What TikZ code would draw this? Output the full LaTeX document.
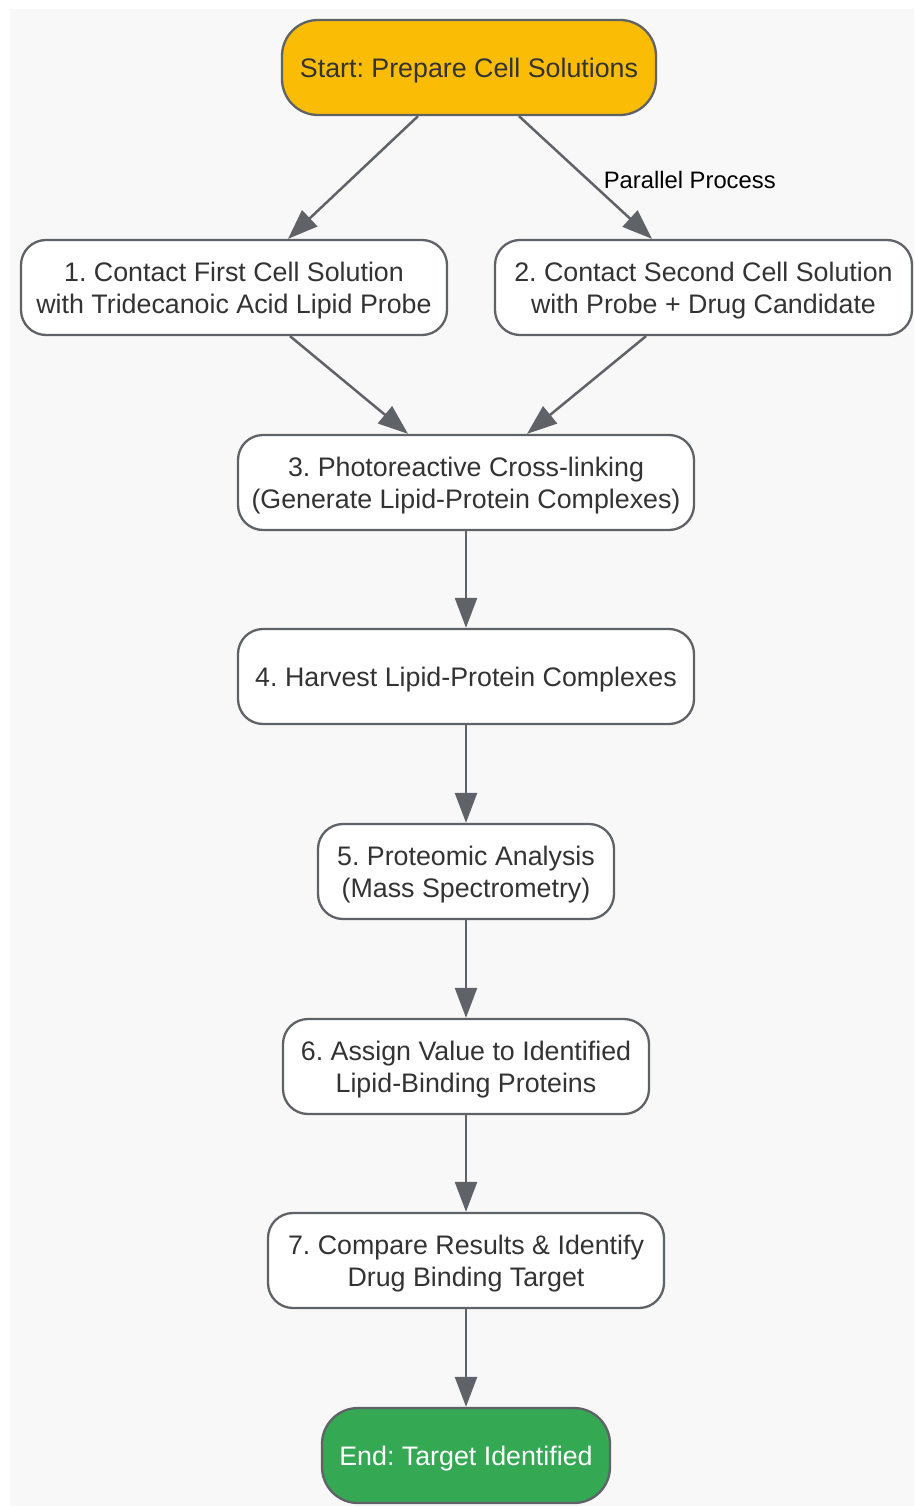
\documentclass[tikz,border=0pt]{standalone}
\usepackage{fontspec}
\setmainfont{Liberation Sans}
\usetikzlibrary{arrows.meta}
\definecolor{bgc}{HTML}{F8F8F8}
\definecolor{edgec}{HTML}{5F6368}
\definecolor{txtc}{HTML}{333333}
\definecolor{startc}{HTML}{FBBC05}
\definecolor{endc}{HTML}{34A853}
\begin{document}
\frenchspacing
\begin{tikzpicture}[x=1pt,y=-1pt,
  stepbox/.style={draw=edgec, line width=2.3pt, fill=white, rounded corners=25pt,
    minimum height=95pt, inner sep=0pt},
  termbox/.style={stepbox, rounded corners=36pt},
  txt/.style={align=center, text=txtc, inner sep=0pt, yshift=-3pt,
    font=\fontsize{26.8}{32}\selectfont},
  conn/.style={draw=edgec, line width=2.5pt, -{Triangle[length=30pt,width=22pt]}},
  lbl/.style={text=black, font=\fontsize{23.8}{28}\selectfont, inner sep=0pt}]
\useasboundingbox (0,0) rectangle (914,1506);
\fill[bgc] (10,9) rectangle (914,1506);

\node[termbox, fill=startc, minimum width=374pt] (s) at (469,67.5) {};
\node[stepbox, minimum width=426pt] (n1) at (234,287.5) {};
\node[stepbox, minimum width=417pt] (n2) at (703.5,287.5) {};
\node[stepbox, minimum width=456pt] (n3) at (466,482.5) {};
\node[stepbox, minimum width=456pt] (n4) at (466,676.5) {};
\node[stepbox, minimum width=296pt] (n5) at (466,871.5) {};
\node[stepbox, minimum width=366pt] (n6) at (466,1066.5) {};
\node[stepbox, minimum width=396pt] (n7) at (466,1260.5) {};
\node[termbox, fill=endc, minimum width=288pt] (e) at (466,1455.5) {};

\node[txt] (st) at (s) {Start: Prepare Cell Solutions};
\node[txt] (n1t) at (n1) {1. Contact First Cell Solution\\with Tridecanoic Acid Lipid Probe};
\node[txt] (n2t) at (n2) {2. Contact Second Cell Solution\\with Probe + Drug Candidate};
\node[txt] (n3t) at (n3) {3. Photoreactive Cross-linking\\(Generate Lipid-Protein Complexes)};
\node[txt] (n4t) at (n4) {4. Harvest Lipid-Protein Complexes};
\node[txt] (n5t) at (n5) {5. Proteomic Analysis\\(Mass Spectrometry)};
\node[txt] (n6t) at (n6) {6. Assign Value to Identified\\Lipid-Binding Proteins};
\node[txt] (n7t) at (n7) {7. Compare Results \& Identify\\Drug Binding Target};
\node[txt, text=white] (et) at (e) {End: Target Identified};

\draw[conn] ([xshift=-51pt]s.south) -- ([xshift=54pt]n1.north);
\draw[conn] ([xshift=50pt]s.south) -- node[lbl, anchor=west, xshift=17pt, yshift=-2pt] (pl) {Parallel Process} ([xshift=-51.5pt]n2.north);
\draw[conn] ([xshift=56pt]n1.south) -- ([xshift=-58pt]n3.north);
\draw[conn] ([xshift=-57.5pt]n2.south) -- ([xshift=61pt]n3.north);
\draw[conn] (n3) -- (n4);
\draw[conn] (n4) -- (n5);
\draw[conn] (n5) -- (n6);
\draw[conn] (n6) -- (n7);
\draw[conn] (n7) -- (e);
\end{tikzpicture}
\end{document}
